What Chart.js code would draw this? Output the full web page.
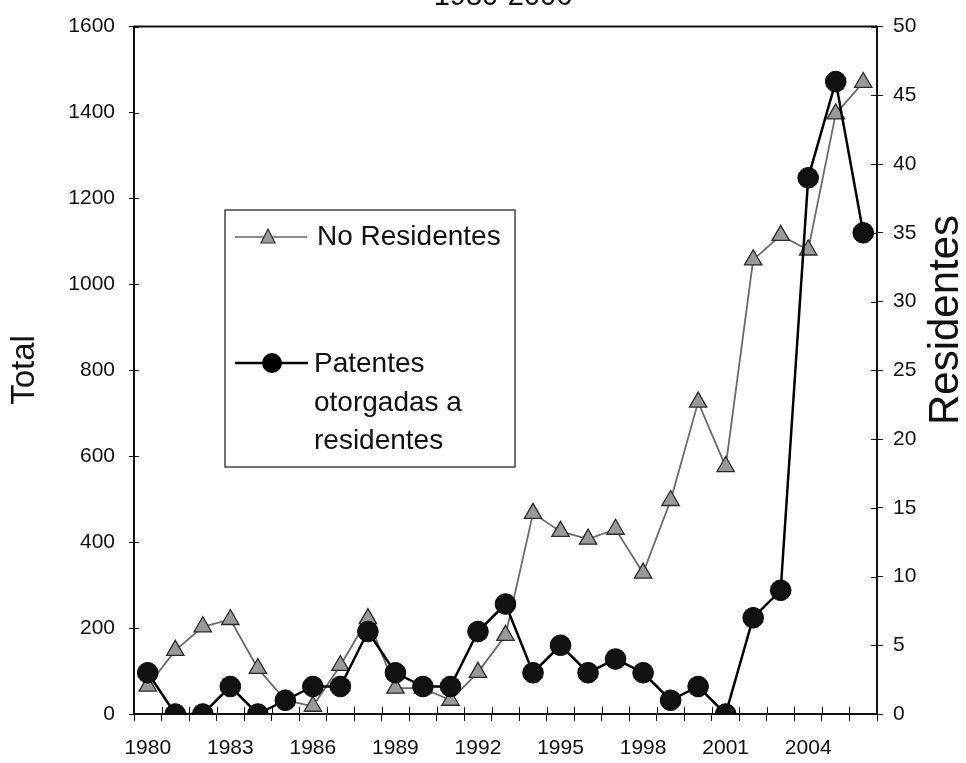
<!DOCTYPE html>
<html>
<head>
<meta charset="utf-8">
<script src="https://cdn.jsdelivr.net/npm/chart.js@4/dist/chart.umd.min.js"></script>
<style>
  html, body { margin: 0; padding: 0; background: #ffffff; }
  #wrap { position: relative; width: 966px; height: 763px; }
  canvas { display: block; }
</style>
</head>
<body>
<div id="wrap"><canvas id="c" width="966" height="763"></canvas></div>
<script>
// ---- data ----
const chartTitle = "1980-2006";
const years = ["1980","1981","1982","1983","1984","1985","1986","1987","1988","1989",
               "1990","1991","1992","1993","1994","1995","1996","1997","1998","1999",
               "2000","2001","2002","2003","2004","2005","2006"];
const shownYearLabels = ["1980","1983","1986","1989","1992","1995","1998","2001","2004"];
const noResidentes = [65,148,203,220,106,32,18,113,222,60,60,32,97,183,467,425,407,430,328,497,726,576,1057,1114,1080,1397,1470];
const residentes   = [3,0,0,2,0,1,2,2,6,3,2,2,6,8,3,5,3,4,3,1,2,0,7,9,39,46,35];
const leftAxisTitle = "Total";
const rightAxisTitle = "Residentes";
const labelNoRes = ["No Residentes"];
const labelRes = ["Patentes", "otorgadas a", "residentes"];

const FONT = "'Liberation Sans', Arial, sans-serif";
const INK = "#111111";

const decorPlugin = {
  id: 'decor',
  beforeDatasetsDraw(chart) {
    const ctx = chart.ctx, a = chart.chartArea;
    ctx.save();
    ctx.strokeStyle = INK;
    // top frame line
    ctx.lineWidth = 2;
    ctx.beginPath(); ctx.moveTo(a.left, a.top); ctx.lineTo(a.right, a.top); ctx.stroke();
    // inner halves of tick marks
    ctx.lineWidth = 1;
    const n = years.length, w = (a.right - a.left) / n;
    for (let i = 0; i <= n; i++) {
      const x = Math.round(a.left + i * w) + 0.5;
      ctx.beginPath(); ctx.moveTo(x, a.bottom - 7); ctx.lineTo(x, a.bottom); ctx.stroke();
    }
    const ys = chart.scales.y;
    ys.ticks.forEach(t => {
      const y = Math.round(ys.getPixelForValue(t.value)) + 0.5;
      ctx.beginPath(); ctx.moveTo(a.left, y); ctx.lineTo(a.left + 5, y); ctx.stroke();
    });
    const y1 = chart.scales.y1;
    y1.ticks.forEach(t => {
      const y = Math.round(y1.getPixelForValue(t.value)) + 0.5;
      ctx.beginPath(); ctx.moveTo(a.right - 6, y); ctx.lineTo(a.right, y); ctx.stroke();
    });
    ctx.restore();
  },
  afterDraw(chart) {
    const ctx = chart.ctx, a = chart.chartArea;
    ctx.save();
    ctx.fillStyle = INK;
    // title (cut off at top like the reference)
    ctx.font = "29px " + FONT;
    ctx.textAlign = "center"; ctx.textBaseline = "alphabetic";
    ctx.fillText(chartTitle, 503, 5);
    // axis titles
    ctx.textBaseline = "middle";
    ctx.save();
    ctx.translate(25, 370);
    ctx.rotate(-Math.PI / 2);
    ctx.font = "33px " + FONT;
    ctx.fillText(leftAxisTitle, 0, 0);
    ctx.restore();
    ctx.save();
    ctx.translate(946, 320);
    ctx.rotate(-Math.PI / 2);
    ctx.font = "42px " + FONT;
    ctx.fillText(rightAxisTitle, 0, 0);
    ctx.restore();

    // legend box
    const bx = 225, by = 210, bw = 290, bh = 257;
    ctx.strokeStyle = "#444";
    ctx.lineWidth = 1.5;
    ctx.fillStyle = "#ffffff";
    ctx.fillRect(bx, by, bw, bh);
    ctx.strokeRect(bx, by, bw, bh);
    // entry 1: triangles
    ctx.strokeStyle = "#666"; ctx.lineWidth = 1.5;
    ctx.beginPath(); ctx.moveTo(235, 237); ctx.lineTo(307, 237); ctx.stroke();
    ctx.fillStyle = "#9a9a9a"; ctx.strokeStyle = "#333"; ctx.lineWidth = 1.2;
    ctx.beginPath();
    ctx.moveTo(268, 229); ctx.lineTo(275, 243); ctx.lineTo(261, 243); ctx.closePath();
    ctx.fill(); ctx.stroke();
    ctx.fillStyle = INK;
    ctx.font = "28px " + FONT;
    ctx.textAlign = "left"; ctx.textBaseline = "middle";
    ctx.fillText(labelNoRes[0], 317, 237);
    // entry 2: circles
    ctx.strokeStyle = "#000"; ctx.lineWidth = 2.5;
    ctx.beginPath(); ctx.moveTo(235, 363); ctx.lineTo(308, 363); ctx.stroke();
    ctx.fillStyle = "#000";
    ctx.beginPath(); ctx.arc(272, 363, 10, 0, Math.PI * 2); ctx.fill();
    ctx.fillStyle = INK;
    const lineYs = [364, 403, 441];
    labelRes.forEach((t, i) => ctx.fillText(t, 314, lineYs[i]));
    ctx.restore();
  }
};

new Chart(document.getElementById('c'), {
  type: 'line',
  data: {
    labels: years,
    datasets: [
      {
        label: labelRes.join(' '),
        data: residentes,
        yAxisID: 'y1',
        borderColor: '#000000',
        borderWidth: 2.5,
        backgroundColor: '#000000',
        pointStyle: 'circle',
        pointRadius: 10.3,
        pointBorderWidth: 1,
        pointBorderColor: '#000000',
        pointBackgroundColor: '#111111',
        tension: 0,
        order: 0
      },
      {
        label: labelNoRes[0],
        data: noResidentes,
        yAxisID: 'y',
        borderColor: '#6a6a6a',
        borderWidth: 1.8,
        backgroundColor: '#9a9a9a',
        pointStyle: 'triangle',
        pointRadius: 10,
        pointBorderWidth: 1.3,
        pointBorderColor: '#2a2a2a',
        pointBackgroundColor: '#999999',
        tension: 0,
        order: 1
      }
    ]
  },
  options: {
    responsive: false,
    animation: false,
    events: [],
    layout: { padding: { top: 22, left: 0, right: 0, bottom: 0 } },
    plugins: { legend: { display: false }, title: { display: false }, tooltip: { enabled: false } },
    scales: {
      x: {
        type: 'category',
        offset: true,
        grid: { offset: true, drawOnChartArea: false, drawTicks: true, tickLength: 7, color: INK, tickColor: INK, tickWidth: 1 },
        border: { display: true, color: INK, width: 2 },
        ticks: {
          autoSkip: false, maxRotation: 0, minRotation: 0, padding: 15,
          color: INK, font: { family: FONT, size: 21 },
          callback: function(v, i) { const y = years[i]; return shownYearLabels.includes(y) ? y : ''; }
        },
        afterFit: s => { s.height = 49; }
      },
      y: {
        position: 'left',
        min: 0, max: 1600,
        grid: { drawOnChartArea: false, tickLength: 5, color: INK, tickColor: INK, tickWidth: 1 },
        border: { display: true, color: INK, width: 2 },
        ticks: { stepSize: 200, padding: 14, color: INK, font: { family: FONT, size: 21 },
                 callback: v => String(v) },
        afterFit: s => { s.width = 134; }
      },
      y1: {
        position: 'right',
        min: 0, max: 50,
        grid: { drawOnChartArea: false, tickLength: 6, color: INK, tickColor: INK, tickWidth: 1 },
        border: { display: true, color: INK, width: 2 },
        ticks: { stepSize: 5, padding: 10, color: INK, font: { family: FONT, size: 21 },
                 callback: v => String(v) },
        afterFit: s => { s.width = 89; }
      }
    }
  },
  plugins: [decorPlugin]
});
</script>
</body>
</html>
